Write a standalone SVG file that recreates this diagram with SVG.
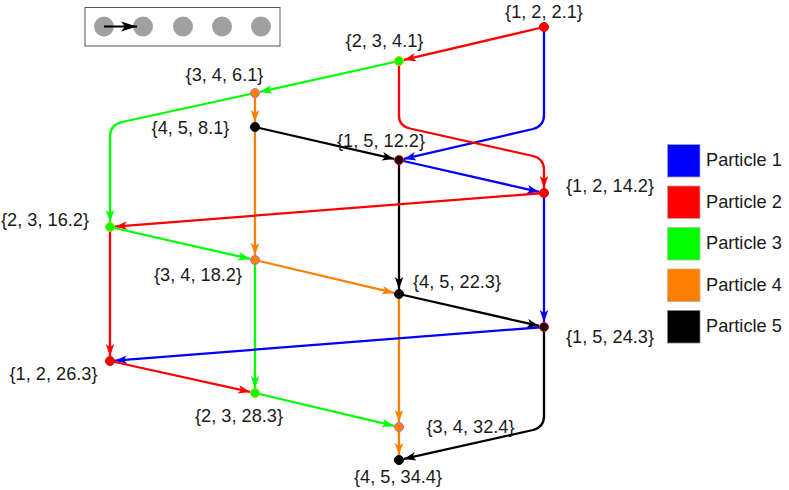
<svg xmlns="http://www.w3.org/2000/svg" width="789" height="490" viewBox="0 0 789 490">
<style>
text{font-family:"Liberation Sans",Arial,sans-serif;font-size:18.2px;fill:#1a1a1a}
.e{fill:none;stroke-width:2.3;stroke-linejoin:round}
.p1{stroke:#0000ff}.p2{stroke:#ff0000}.p3{stroke:#00ff00}.p4{stroke:#ff8000}.p5{stroke:#000000}
.n{stroke-width:1}
</style>
<defs>
<marker id="m1" markerUnits="userSpaceOnUse" markerWidth="14" markerHeight="10" viewBox="-12 -5 14 10" refX="0" refY="0" orient="auto" overflow="visible"><path d="M0,0 L-12,-4.3 L-9,0 L-12,4.3 Z" fill="#0000ff"/></marker>
<marker id="m2" markerUnits="userSpaceOnUse" markerWidth="14" markerHeight="10" viewBox="-12 -5 14 10" refX="0" refY="0" orient="auto" overflow="visible"><path d="M0,0 L-12,-4.3 L-9,0 L-12,4.3 Z" fill="#ff0000"/></marker>
<marker id="m3" markerUnits="userSpaceOnUse" markerWidth="14" markerHeight="10" viewBox="-12 -5 14 10" refX="0" refY="0" orient="auto" overflow="visible"><path d="M0,0 L-12,-4.3 L-9,0 L-12,4.3 Z" fill="#00ff00"/></marker>
<marker id="m4" markerUnits="userSpaceOnUse" markerWidth="14" markerHeight="10" viewBox="-12 -5 14 10" refX="0" refY="0" orient="auto" overflow="visible"><path d="M0,0 L-12,-4.3 L-9,0 L-12,4.3 Z" fill="#ff8000"/></marker>
<marker id="m5" markerUnits="userSpaceOnUse" markerWidth="14" markerHeight="10" viewBox="-12 -5 14 10" refX="0" refY="0" orient="auto" overflow="visible"><path d="M0,0 L-12,-4.3 L-9,0 L-12,4.3 Z" fill="#000000"/></marker>
<marker id="mk" markerUnits="userSpaceOnUse" markerWidth="18" markerHeight="12" viewBox="-17 -6 18 12" refX="0" refY="0" orient="auto" overflow="visible"><path d="M0,0 L-16,-5 L-12,0 L-16,5 Z" fill="#000000"/></marker>
</defs>
<rect width="789" height="490" fill="#ffffff"/>

<g id="inset">
<rect x="85" y="7.5" width="195" height="38.5" fill="#ffffff" stroke="#555555" stroke-width="1"/>
<circle cx="104" cy="26.5" r="10" fill="#a0a0a0"/>
<circle cx="143" cy="26.5" r="10" fill="#a0a0a0"/>
<circle cx="183" cy="26.5" r="10" fill="#a0a0a0"/>
<circle cx="222" cy="26.5" r="10" fill="#a0a0a0"/>
<circle cx="261" cy="26.5" r="10" fill="#a0a0a0"/>
<path d="M104,26.5 L137,26.5" stroke="#000000" stroke-width="2" marker-end="url(#mk)"/>
</g>

<g id="connectors">
<path class="e p2" d="M544,27 L403.9,59.9" marker-end="url(#m2)"/>
<path class="e p1" d="M544,27 L544,115 Q544,126 533,129 L403.9,158.9" marker-end="url(#m1)"/>
<path class="e p3" d="M399,61 L259.9,91.9" marker-end="url(#m3)"/>
<path class="e p2" d="M399,61 L399,116 Q399,126 410,128.5 L533,156 Q544,158.5 544,170 L544,188" marker-end="url(#m2)"/>
<path class="e p4" d="M255,93 L255,122" marker-end="url(#m4)"/>
<path class="e p3" d="M255,93 L122,122 Q110.3,124.6 110,136 L110,222" marker-end="url(#m3)"/>
<path class="e p5" d="M255,127 L394.1,158.9" marker-end="url(#m5)"/>
<path class="e p4" d="M255,127 L255,255" marker-end="url(#m4)"/>
<path class="e p1" d="M399,160 L539.1,191.9" marker-end="url(#m1)"/>
<path class="e p5" d="M399,160 L399,289" marker-end="url(#m5)"/>
<path class="e p2" d="M544,193 L115,226.6" marker-end="url(#m2)"/>
<path class="e p1" d="M544,193 L544,322" marker-end="url(#m1)"/>
<path class="e p3" d="M110,227 L250.1,258.9" marker-end="url(#m3)"/>
<path class="e p2" d="M110,227 L110,356" marker-end="url(#m2)"/>
<path class="e p4" d="M255,260 L394.1,292.9" marker-end="url(#m4)"/>
<path class="e p3" d="M255,260 L255,388" marker-end="url(#m3)"/>
<path class="e p5" d="M399,294 L539.1,325.9" marker-end="url(#m5)"/>
<path class="e p4" d="M399,294 L399,422" marker-end="url(#m4)"/>
<path class="e p1" d="M544,327 L115,360.6" marker-end="url(#m1)"/>
<path class="e p5" d="M544,327 L544,416 Q544,427 533,430 L403.9,458.9" marker-end="url(#m5)"/>
<path class="e p2" d="M110,361 L250.1,391.9" marker-end="url(#m2)"/>
<path class="e p3" d="M255,393 L394.1,425.9" marker-end="url(#m3)"/>
<path class="e p4" d="M399,427 L399,455" marker-end="url(#m4)"/>
</g>

<g id="n_1_2_2.1"><circle class="n" cx="544" cy="27" r="4.5" fill="#ff0000" stroke="#e00000"/><text x="544" y="18" text-anchor="middle">{1, 2, 2.1}</text></g>
<g id="n_2_3_4.1"><circle class="n" cx="399" cy="61" r="4.5" fill="#00ff00" stroke="#c8c800"/><text x="384.5" y="47" text-anchor="middle">{2, 3, 4.1}</text></g>
<g id="n_3_4_6.1"><circle class="n" cx="255" cy="93" r="4.5" fill="#ff8000" stroke="#b070c8"/><text x="224.5" y="81" text-anchor="middle">{3, 4, 6.1}</text></g>
<g id="n_4_5_8.1"><circle class="n" cx="255" cy="127" r="4.5" fill="#000000" stroke="#000000"/><text x="190.5" y="134" text-anchor="middle">{4, 5, 8.1}</text></g>
<g id="n_1_5_12.2"><circle class="n" cx="399" cy="160" r="4.5" fill="#000000" stroke="#ff0000"/><text x="381" y="147" text-anchor="middle">{1, 5, 12.2}</text></g>
<g id="n_1_2_14.2"><circle class="n" cx="544" cy="193" r="4.5" fill="#ff0000" stroke="#e00000"/><text x="566" y="192">{1, 2, 14.2}</text></g>
<g id="n_2_3_16.2"><circle class="n" cx="110" cy="227" r="4.5" fill="#00ff00" stroke="#c8c800"/><text x="1" y="226">{2, 3, 16.2}</text></g>
<g id="n_3_4_18.2"><circle class="n" cx="255" cy="260" r="4.5" fill="#ff8000" stroke="#b070c8"/><text x="198" y="281" text-anchor="middle">{3, 4, 18.2}</text></g>
<g id="n_4_5_22.3"><circle class="n" cx="399" cy="294" r="4.5" fill="#000000" stroke="#000000"/><text x="413" y="288">{4, 5, 22.3}</text></g>
<g id="n_1_5_24.3"><circle class="n" cx="544" cy="327" r="4.5" fill="#000000" stroke="#ff0000"/><text x="566" y="343">{1, 5, 24.3}</text></g>
<g id="n_1_2_26.3"><circle class="n" cx="110" cy="361" r="4.5" fill="#ff0000" stroke="#e00000"/><text x="53.5" y="380" text-anchor="middle">{1, 2, 26.3}</text></g>
<g id="n_2_3_28.3"><circle class="n" cx="255" cy="393" r="4.5" fill="#00ff00" stroke="#c8c800"/><text x="239" y="422" text-anchor="middle">{2, 3, 28.3}</text></g>
<g id="n_3_4_32.4"><circle class="n" cx="399" cy="427" r="4.5" fill="#ff8000" stroke="#b070c8"/><text x="470.5" y="433" text-anchor="middle">{3, 4, 32.4}</text></g>
<g id="n_4_5_34.4"><circle class="n" cx="399" cy="460" r="4.5" fill="#000000" stroke="#000000"/><text x="398" y="483" text-anchor="middle">{4, 5, 34.4}</text></g>

<g id="legend">
<rect x="667.5" y="144.5" width="32.5" height="32.5" fill="#0000ff" stroke="#a0a0c8" stroke-width="0.8"/>
<rect x="667.5" y="186" width="32.5" height="32.5" fill="#ff0000" stroke="#c8a0a0" stroke-width="0.8"/>
<rect x="667.5" y="227.5" width="32.5" height="32.5" fill="#00ff00" stroke="#a0c8a0" stroke-width="0.8"/>
<rect x="667.5" y="269" width="32.5" height="32.5" fill="#ff8000" stroke="#c8b090" stroke-width="0.8"/>
<rect x="667.5" y="310.5" width="32.5" height="32.5" fill="#000000" stroke="#808080" stroke-width="0.8"/>
<text x="706" y="166">Particle 1</text>
<text x="706" y="207.5">Particle 2</text>
<text x="706" y="249">Particle 3</text>
<text x="706" y="290.5">Particle 4</text>
<text x="706" y="332">Particle 5</text>
</g>
</svg>
